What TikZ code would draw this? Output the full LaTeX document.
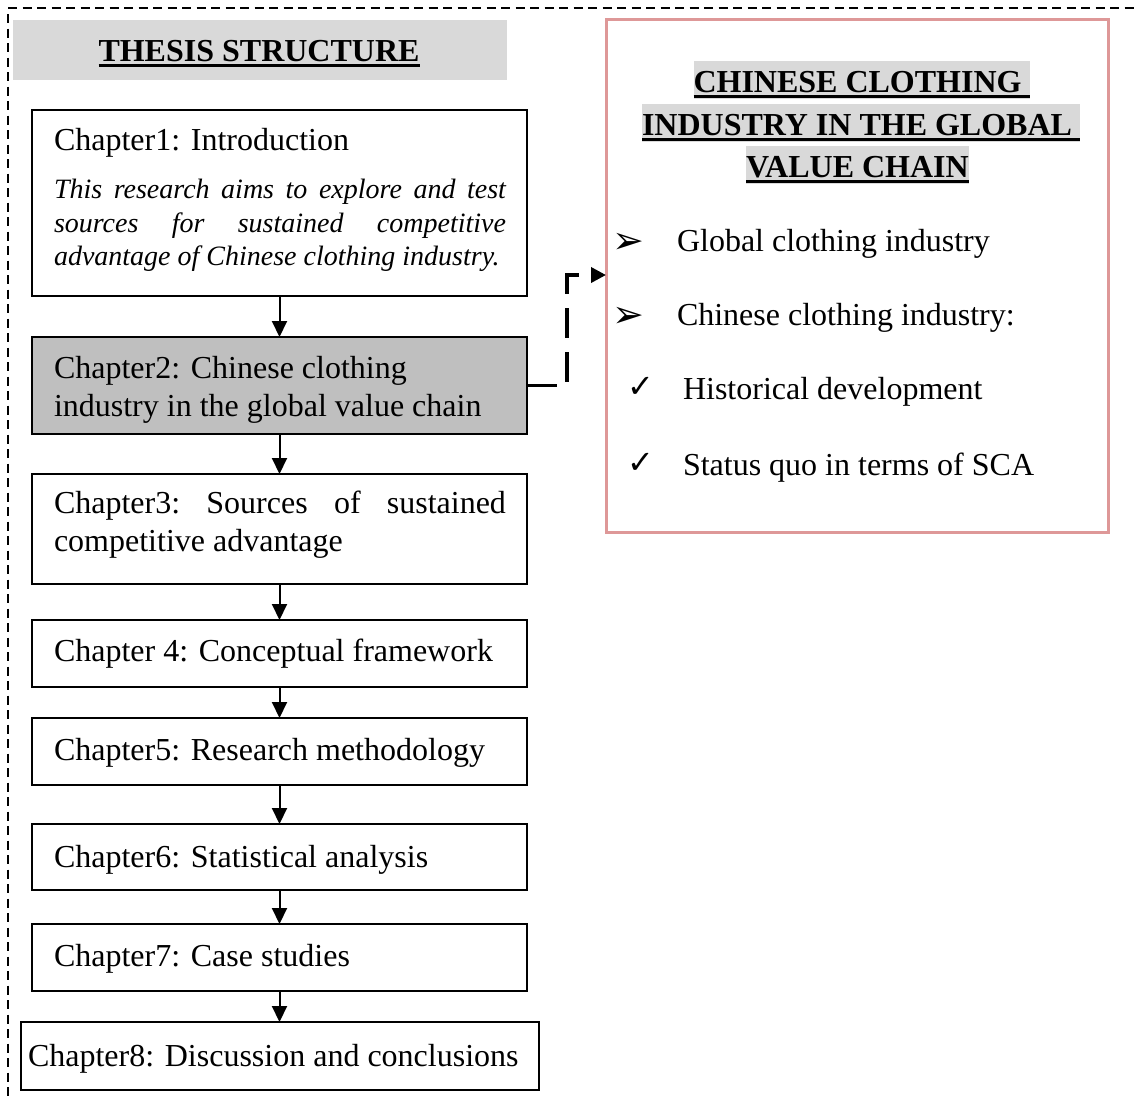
\documentclass[tikz,border=0pt]{standalone}
\usepackage{fontspec}
\setmainfont{Liberation Serif}
\newfontfamily\symfont{DejaVu Sans}
\usetikzlibrary{arrows.meta}

\definecolor{titlegray}{RGB}{217,217,217}
\definecolor{chapgray}{RGB}{191,191,191}
\definecolor{framepink}{RGB}{222,152,152}

% thick underline placed just below the baseline
\newcommand\undl[1]{\setbox0\hbox{#1}\rlap{\rule[-6.2pt]{\wd0}{3.2pt}}\box0}

\begin{document}
\begin{tikzpicture}[x=1pt,y=-1pt,
  every node/.style={inner sep=0pt,outer sep=0pt},
  font=\fontsize{32}{38}\selectfont,
  chap/.style={draw=black,line width=1.8pt,rectangle,minimum width=495pt},
  txt/.style={anchor=base west},
  itx/.style={anchor=base west,font=\fontsize{28}{33}\selectfont\itshape},
  hl/.style={fill=titlegray,text height=31pt,text depth=6.5pt,font=\fontsize{32}{38}\selectfont\bfseries},
  arrowbul/.style={anchor=base west,font=\symfont\fontsize{38}{38}\selectfont},
  checkbul/.style={anchor=base west,font=\symfont\fontsize{32}{32}\selectfont},
  arr/.style={line width=2pt,-{Triangle[length=16pt,width=15pt]}},
  frame/.style={line width=2.5pt,dash pattern=on 9pt off 5.5pt},
  link/.style={line width=3.5pt,dash pattern=on 30pt off 14pt,-{Triangle[length=15pt,width=15pt]}}
]
\useasboundingbox (0,0) rectangle (1135,1101);

% outer dashed frame (top and left sides)
\draw[frame] (8,8) -- (1135,8);
\draw[frame] (8,14) -- (8,1101);

% heading bar
\node[fill=titlegray,minimum width=494pt,minimum height=60pt] (tbar) at (260,50) {};
\node[anchor=base,font=\fontsize{32}{38}\selectfont\bfseries] (ttl) at (259,61) {\undl{THESIS STRUCTURE}};

% chapter boxes
\node[chap,minimum height=186pt] (c1) at (279.5,203) {};
\node[chap,minimum height=97pt,fill=chapgray] (c2) at (279.5,385.5) {};
\node[chap,minimum height=110pt] (c3) at (279.5,529) {};
\node[chap,minimum height=67pt] (c4) at (279.5,653.5) {};
\node[chap,minimum height=67pt] (c5) at (279.5,751.5) {};
\node[chap,minimum height=66pt] (c6) at (279.5,857) {};
\node[chap,minimum height=67pt] (c7) at (279.5,957.5) {};
\node[chap,minimum width=518pt,minimum height=68pt] (c8) at (280,1056) {};

% chapter texts
\node[txt] (c1t) at (54,150) {Chapter1: Introduction};
\node[itx] (c1a) at (54,198) {\hbox to 452pt{This\hfill research\hfill aims\hfill to\hfill explore\hfill and\hfill test}};
\node[itx] (c1b) at (54,232) {\hbox to 452pt{sources\hfill for\hfill sustained\hfill competitive}};
\node[itx] (c1c) at (54,265) {advantage of Chinese clothing industry.};
\node[txt] (c2a) at (54,378) {Chapter2: Chinese clothing};
\node[txt] (c2b) at (54,416) {industry in the global value chain};
\node[txt] (c3a) at (54,513) {\hbox to 452pt{Chapter3:\hfill Sources\hfill of\hfill sustained}};
\node[txt] (c3b) at (54,551) {competitive advantage};
\node[txt] (c4t) at (54,661) {Chapter 4: Conceptual framework};
\node[txt] (c5t) at (54,760) {Chapter5: Research methodology};
\node[txt] (c6t) at (54,867) {Chapter6: Statistical analysis};
\node[txt] (c7t) at (54,966) {Chapter7: Case studies};
\node[txt] (c8t) at (28,1066) {Chapter8: Discussion and conclusions};

% arrows down the chapter column
\draw[arr] (c1.south) -- (c2.north);
\draw[arr] (c2.south) -- (c3.north);
\draw[arr] (c3.south) -- (c4.north);
\draw[arr] (c4.south) -- (c5.north);
\draw[arr] (c5.south) -- (c6.north);
\draw[arr] (c6.south) -- (c7.north);
\draw[arr] (c7.south) -- (c7.south |- c8.north);

% detail panel for chapter 2
\node[draw=framepink,line width=3pt,minimum width=502pt,minimum height=513pt] (gvc) at (857,275.5) {};
\node[hl,anchor=base west] (g1) at (693.5,92) {\undl{CHINESE CLOTHING\ }};
\node[hl,anchor=base west] (g2) at (642,135) {\undl{INDUSTRY IN THE GLOBAL\ }};
\node[hl,anchor=base] (g3) at (857.5,177) {\undl{VALUE CHAIN}};

\node[arrowbul] (b1) at (612,253) {➢};
\node[txt] (t1) at (677,251) {Global clothing industry};
\node[arrowbul] (b2) at (612,327) {➢};
\node[txt] (t2) at (677,325) {Chinese clothing industry:};
\node[checkbul] (b3) at (627,397) {✓};
\node[txt] (t3) at (683,399) {Historical development};
\node[checkbul] (b4) at (627,473) {✓};
\node[txt] (t4) at (683,475) {Status quo in terms of SCA};

% dashed link from chapter 2 to its panel
\coordinate (bend) at (567,275);
\coordinate (tip) at (gvc.west |- bend);
\draw[link] (c2.east) -| (bend) -- (tip);
\end{tikzpicture}
\end{document}
